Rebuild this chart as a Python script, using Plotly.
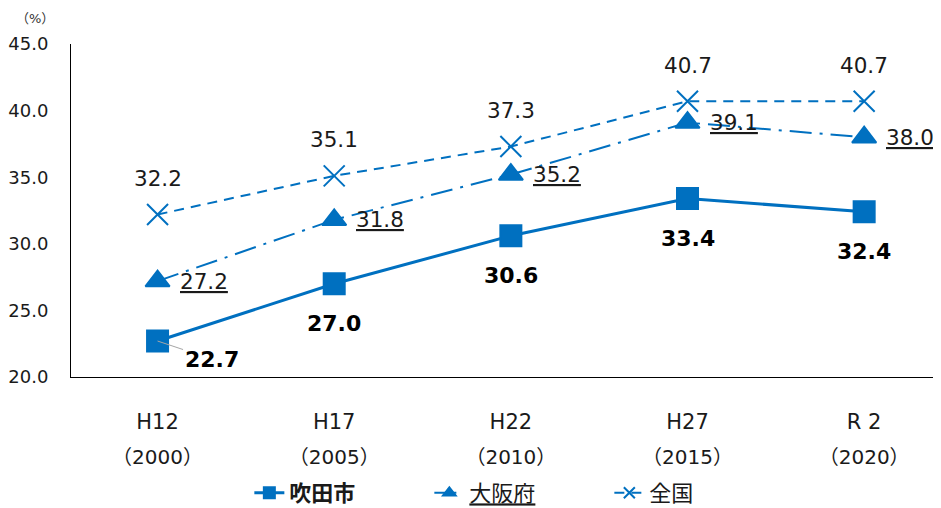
import plotly.graph_objects as go

periods = ["H12", "H17", "H22", "H27", "R 2"]
years = ["（2000）", "（2005）", "（2010）", "（2015）", "（2020）"]
suita = [22.7, 27.0, 30.6, 33.4, 32.4]
osaka = [27.2, 31.8, 35.2, 39.1, 38.0]
zenkoku = [32.2, 35.1, 37.3, 40.7, 40.7]

blue = "#0070C0"
num_font = "DejaVu Sans"
jp_font = "DejaVu Sans, Noto Sans CJK JP"
xs = list(range(len(periods)))

styles = [
    ("<b>吹田市</b>", suita, dict(color=blue, width=3), "square"),
    ("<u>大阪府</u>", osaka, dict(color=blue, width=2, dash="22px,8px,3px,8px"), "triangle-up"),
    ("全国", zenkoku, dict(color=blue, width=2, dash="10px,7px"), "x-thin-open"),
]

fig = go.Figure()
for name, vals, line, sym in styles:
    mk = dict(symbol=sym, size=21, color=blue, line=dict(color=blue, width=2))
    fig.add_trace(go.Scatter(x=xs, y=vals, name=name, mode="lines+markers",
                             line=line, marker=mk, showlegend=False))
    # legend-only copy with smaller marker
    mk_small = dict(mk, size=11)
    fig.add_trace(go.Scatter(x=[None], y=[None], name=name, mode="lines+markers",
                             line=line, marker=mk_small))

# carries the second row of x labels
fig.add_trace(go.Scatter(x=xs, y=suita, xaxis="x2", mode="none",
                         showlegend=False, hoverinfo="skip"))

lbl = dict(family=num_font, size=21.5, color="#1a1a1a")
bold = dict(family=num_font, size=22, color="black")
for i in xs:
    fig.add_annotation(x=i, y=zenkoku[i], text=f"{zenkoku[i]:.1f}", showarrow=False,
                       yshift=36, font=lbl)
    fig.add_annotation(x=i, y=osaka[i], text=f"<u>{osaka[i]:.1f}</u>", showarrow=False,
                       xanchor="left", xshift=20, yshift=0, font=lbl)
    if i == 0:
        fig.add_annotation(x=i, y=suita[i], text=f"<b>{suita[i]:.1f}</b>", showarrow=True,
                           ax=54, ay=18, arrowhead=0, arrowwidth=1, arrowcolor="#a6a6a6",
                           standoff=0, font=bold)
    else:
        fig.add_annotation(x=i, y=suita[i], text=f"<b>{suita[i]:.1f}</b>", showarrow=False,
                           yshift=-40, font=bold)

fig.add_annotation(xref="paper", yref="paper", x=-0.0413, y=1.078, xanchor="center",
                   yanchor="middle", text="（%）", showarrow=False,
                   font=dict(family=jp_font, size=13, color="#333333"))

xr = [-0.49, 4.435]
fig.update_layout(
    width=933, height=500,
    margin=dict(l=61, r=0, t=36, b=131),
    plot_bgcolor="white", paper_bgcolor="white",
    font=dict(family=jp_font, color="#1a1a1a"),
    xaxis=dict(range=xr, tickvals=xs, ticktext=periods, showgrid=False, zeroline=False,
               showline=True, linecolor="black", linewidth=1, ticks="",
               ticklabelstandoff=26, tickfont=dict(family=num_font, size=21)),
    xaxis2=dict(range=xr, overlaying="x", side="bottom", tickvals=xs, ticktext=years,
                showgrid=False, zeroline=False, showline=False, ticks="",
                ticklabelstandoff=66, tickfont=dict(family=jp_font, size=20)),
    yaxis=dict(range=[20, 45], dtick=5, tickformat=".1f", showgrid=False, zeroline=False,
               showline=True, linecolor="black", linewidth=1, ticks="",
               ticklabelstandoff=18, tickfont=dict(family=num_font, size=18)),
    legend=dict(orientation="h", x=0.205, xanchor="left", yref="container", y=0.03,
                yanchor="middle", font=dict(family=jp_font, size=22, color="#1a1a1a"),
                entrywidth=135, entrywidthmode="pixels", itemwidth=30),
)

fig.write_html("out.html")
